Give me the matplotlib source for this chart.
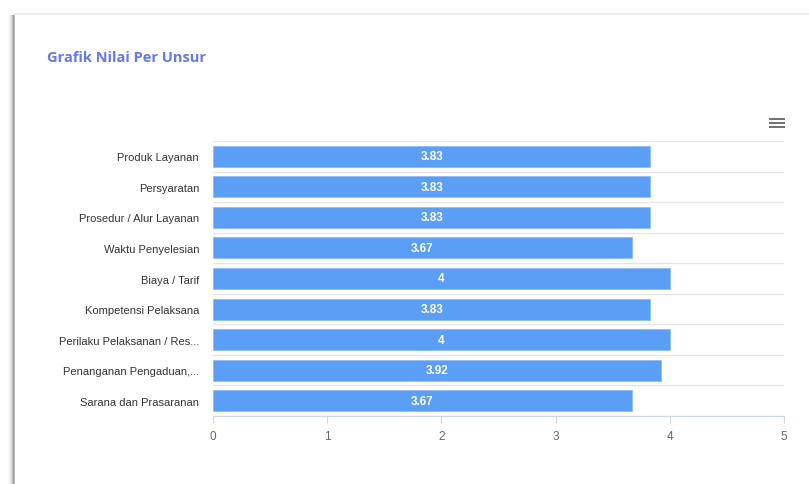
import matplotlib
matplotlib.use("Agg")
import matplotlib.pyplot as plt
from matplotlib.patches import Rectangle

categories = [
    "Produk Layanan", "Persyaratan", "Prosedur / Alur Layanan",
    "Waktu Penyelesian", "Biaya / Tarif", "Kompetensi Pelaksana",
    "Perilaku Pelaksanan / Res...", "Penanganan Pengaduan,...",
    "Sarana dan Prasaranan",
]
values = [3.83, 3.83, 3.83, 3.67, 4, 3.83, 4, 3.92, 3.67]
x_ticks = [0, 1, 2, 3, 4, 5]

W, H = 809, 485
fig = plt.figure(figsize=(W / 100, H / 100), dpi=100)
fig.patch.set_facecolor("white")

# card background: soft shadow on the left edge, faint line on top
bg = fig.add_axes([0, 0, 1, 1])
bg.set_xlim(0, W)
bg.set_ylim(H, 0)
bg.axis("off")
shades = ["#fafafa", "#f3f3f3", "#e8e8e8", "#d6d6d6", "#bdbdbd", "#a4a4a4", "#b8b8b8"]
for i, c in enumerate(shades):
    bg.add_patch(Rectangle((8 + i, 16), 1, H, facecolor=c, lw=0))
bg.add_patch(Rectangle((14, 14), W, 2, facecolor="#ededed", lw=0))
bg.add_patch(Rectangle((15, 16), W, H, facecolor="white", lw=0))

bg.text(47, 58, "Grafik Nilai Per Unsur", color="#6777ef", fontsize=10.5,
        fontweight="bold", family="Open Sans", va="center", ha="left")

# hamburger menu icon
for yy in (120, 124, 128):
    bg.plot([769, 785], [yy, yy], color="#666666", lw=1.3, solid_capstyle="butt")

ax = fig.add_axes([213 / W, 1 - 417 / H, (784 - 213) / W, (417 - 142) / H])
ax.set_facecolor("none")
y = list(range(len(categories)))
bars = ax.barh(y, values, height=0.69, color="#5b9ef5", edgecolor="#8fbcf8", lw=0.6)
for b, v in zip(bars, values):
    ax.text(v / 2, b.get_y() + b.get_height() / 2, f"{v:g}", color="white",
            fontsize=8.5, fontweight="bold", family="Liberation Sans",
            ha="center", va="center")

ax.set_ylim(len(categories) - 0.5, -0.5)
ax.set_xlim(0, 5)
for k in range(len(categories) + 1):
    ax.axhline(k - 0.5, color="#e6e6e6", lw=1, zorder=0)

ax.set_yticks(y)
ax.set_yticklabels(categories, family="Liberation Sans", fontsize=8, color="#333333")
ax.tick_params(axis="y", length=0, pad=10)
ax.set_xticks(x_ticks)
ax.set_xticklabels([str(t) for t in x_ticks], family="Liberation Sans", fontsize=8.5, color="#666666")
ax.tick_params(axis="x", length=5, color="#ccd6eb", direction="out", pad=5)
for s in ("top", "right", "left"):
    ax.spines[s].set_visible(False)
ax.spines["bottom"].set_color("#ccd6eb")

fig.savefig("out.png", dpi=100)
